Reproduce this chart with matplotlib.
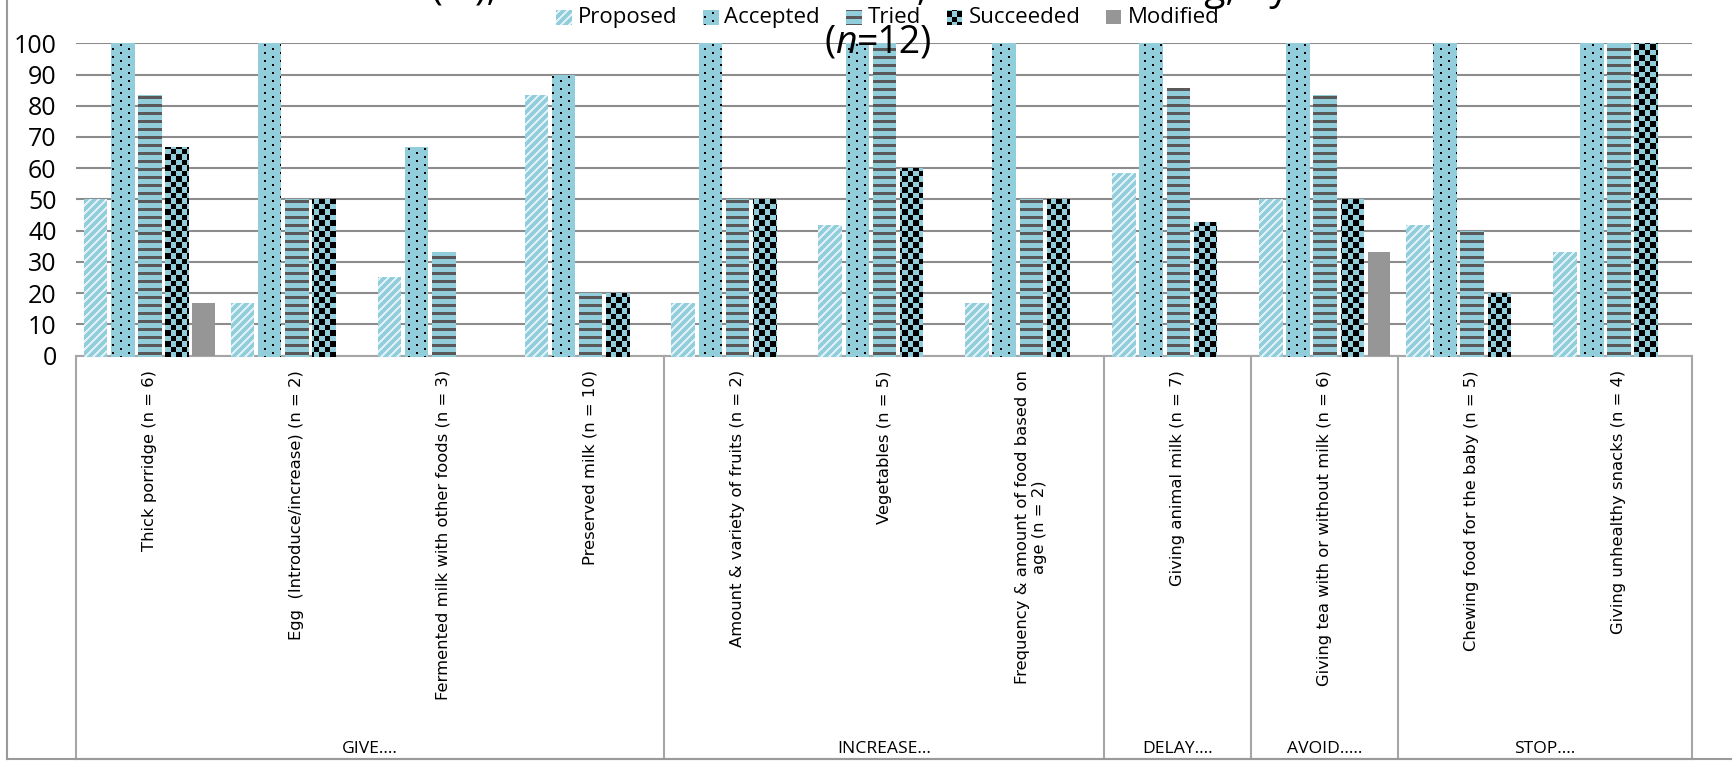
import numpy as np
import matplotlib
matplotlib.use("Agg")
import matplotlib.pyplot as plt
import matplotlib.transforms as mtransforms
from matplotlib import font_manager
from matplotlib.patches import Rectangle
from matplotlib.lines import Line2D

# ---------------- data ----------------
categories = [
    "Thick porridge (n = 6)",
    "Egg  (Introduce/increase) (n = 2)",
    "Fermented milk with other foods (n = 3)",
    "Preserved milk (n = 10)",
    "Amount & variety of fruits (n = 2)",
    "Vegetables (n = 5)",
    "Frequency & amount of food based on\nage (n = 2)",
    "Giving animal milk (n = 7)",
    "Giving tea with or without milk (n = 6)",
    "Chewing food for the baby (n = 5)",
    "Giving unhealthy snacks (n = 4)",
]
groups = ["GIVE....", "INCREASE...", "DELAY....", "AVOID.....", "STOP...."]
group_sizes = [4, 3, 1, 1, 2]

series_names = ["Proposed", "Accepted", "Tried", "Succeeded", "Modified"]
proposed = [50, 16.7, 25, 83.3, 16.7, 41.7, 16.7, 58.3, 50, 41.7, 33.3]
accepted = [100, 100, 66.7, 90, 100, 100, 100, 100, 100, 100, 100]
tried = [83.3, 50, 33.3, 20, 50, 100, 50, 85.7, 83.3, 40, 100]
succeeded = [66.7, 50, 0, 20, 50, 60, 50, 42.9, 50, 20, 100]
modified = [16.7, 0, 0, 0, 0, 0, 0, 0, 33.3, 0, 0]

yticks = list(range(0, 101, 10))
title_line1 = "Outcomes (%), for the advised actions, on child feeding, by the mothers"
title_n = "12"

# ---------------- figure setup ----------------
W, H, DPI = 1732, 761, 100
plt.rcParams['font.family'] = ['Open Sans', 'DejaVu Sans']

fig = plt.figure(figsize=(W / DPI, H / DPI), dpi=DPI)
fig.patch.set_facecolor('white')
fig.suppressComposite = True

# plot area in pixels (from the top-left corner)
ax_l, ax_r, ax_t, ax_b = 76, 1692, 43.3, 355.5
ax = fig.add_axes([ax_l / W, 1 - ax_b / H, (ax_r - ax_l) / W, (ax_b - ax_t) / H])
ax_h_px = ax_b - ax_t


def ax_y(px_from_top):
    return (ax_b - px_from_top) / ax_h_px


# ---------------- fill textures (pixel patterns) ----------------
BLUE = '#92CDDC'
yy, xx = np.mgrid[0:H, 0:W]


def rgba(hexcol):
    return np.array([int(hexcol[i:i + 2], 16) for i in (1, 3, 5)] + [255], dtype=np.uint8)


def texture(mask, fg, bg=BLUE):
    img = np.empty((H, W, 4), np.uint8)
    img[:] = rgba(bg)
    img[mask] = rgba(fg)
    return img


tex = {
    "Proposed": texture(((xx + yy) % 8) < 3, '#DDF0F5'),
    "Accepted": texture(((xx % 8) < 2) & (((yy + 4 * ((xx // 8) % 2)) % 8) < 2), '#000000'),
    "Tried": texture((yy % 8) < 3, '#595959'),
    "Succeeded": texture(((np.floor(xx / 5.5) + np.floor(yy / 5.5)) % 2) == 0, '#000000'),
    "Modified": None,
}
base_col = {"Proposed": BLUE, "Accepted": BLUE, "Tried": BLUE,
            "Succeeded": BLUE, "Modified": '#969696'}

# ---------------- bars ----------------
values = [proposed, accepted, tried, succeeded, modified]
x = np.arange(len(categories))
pitch, width = 0.185, 0.154
nser = len(series_names)
for k, (name, vals) in enumerate(zip(series_names, values)):
    bars = ax.bar(x + (k - (nser - 1) / 2) * pitch, vals, width,
                  color=base_col[name], linewidth=0, zorder=2)
    if tex[name] is not None:
        for b in bars:
            if b.get_height() <= 0:
                continue
            im = fig.figimage(tex[name], 0, 0, origin='upper', zorder=1)
            im.set_clip_path(b)

# ---------------- axes styling ----------------
ax.set_xlim(-0.5, len(categories) - 0.5)
ax.set_ylim(0, 100)
ax.set_yticks(yticks)
ax.set_yticklabels([str(v) for v in yticks])
ax.set_xticks([])
ax.tick_params(axis='y', length=0, labelsize=18, pad=14)
for s in ax.spines.values():
    s.set_visible(False)
ax.yaxis.grid(True, color='#8C8C8C', linewidth=1.5)
ax.set_axisbelow(True)
ax.set_facecolor('none')

# ---------------- category axis (two levels) ----------------
BOX = '#A6A6A6'
trans = mtransforms.blended_transform_factory(ax.transData, ax.transAxes)
y_box_bot = ax_y(758.5)
ax.plot([-0.5, len(categories) - 0.5], [0, 0], transform=trans, color=BOX,
        lw=1.5, clip_on=False, zorder=1.5)
ax.plot([-0.5, len(categories) - 0.5], [y_box_bot, y_box_bot], transform=trans,
        color=BOX, lw=1.5, clip_on=False)
edges = np.concatenate([[0], np.cumsum(group_sizes)]) - 0.5
for e in edges:
    ax.plot([e, e], [0, y_box_bot], transform=trans, color=BOX, lw=1.5, clip_on=False)

y_lab_top = ax_y(370)
for i, lab in enumerate(categories):
    ax.text(i, y_lab_top, lab, transform=trans, rotation=90, ha='center', va='top',
            fontsize=11.8, family='DejaVu Sans', multialignment='center',
            linespacing=1.2)

y_grp = ax_y(753)
for g, a, b in zip(groups, edges[:-1], edges[1:]):
    ax.text((a + b) / 2, y_grp, g, transform=trans, ha='center', va='baseline',
            fontsize=12.6)

# outer chart border (left and bottom edges)
fig.add_artist(Line2D([7 / W, 7 / W], [1.0, 1 - 758.5 / H], color='#9A9A9A', lw=1.5))
fig.add_artist(Line2D([7 / W, 1.0], [1 - 758.5 / H, 1 - 758.5 / H], color='#9A9A9A', lw=1.5))

# ---------------- legend (drawn by hand for pixel patterns) ----------------
renderer = fig.canvas.get_renderer()
lx = 556
psz = 14.5
p_cy = 17.0
t_base = 23.0
for name in series_names:
    rect = Rectangle((lx / W, 1 - (p_cy + psz / 2) / H), psz / W, psz / H,
                     transform=fig.transFigure, facecolor=base_col[name],
                     linewidth=0, zorder=2)
    fig.add_artist(rect)
    if tex[name] is not None:
        im = fig.figimage(tex[name], 0, 0, origin='upper', zorder=3)
        im.set_clip_path(rect)
    t = fig.text((lx + psz + 7) / W, 1 - t_base / H, name, fontsize=16,
                 ha='left', va='baseline', zorder=4)
    bb = t.get_window_extent(renderer)
    lx = bb.x1 + 26

# ---------------- title (top line runs past the upper edge) ----------------
tcx = 878
fig.text(tcx / W, 1.0, title_line1, fontsize=28, ha='center', va='baseline', zorder=5)


def italic_family():
    for fam in ['Open Sans', 'Noto Sans', 'Lato', 'Roboto', 'DejaVu Sans']:
        for f in font_manager.fontManager.ttflist:
            if f.name == fam and f.style == 'italic':
                return fam
    return 'DejaVu Sans'


ita = italic_family()
pieces = [("(", {}), ("n", {"family": ita, "style": "italic"}), ("=" + title_n + ")", {})]
texts = []
for s, kw in pieces:
    t = fig.text(0, 1 - 53.0 / H, s, fontsize=27, ha='left', va='baseline', zorder=5, **kw)
    texts.append(t)
widths = [t.get_window_extent(renderer).width for t in texts]
start = tcx - sum(widths) / 2
for t, w in zip(texts, widths):
    t.set_x(start / W)
    start += w

fig.savefig("out.png", dpi=DPI, facecolor='white')
